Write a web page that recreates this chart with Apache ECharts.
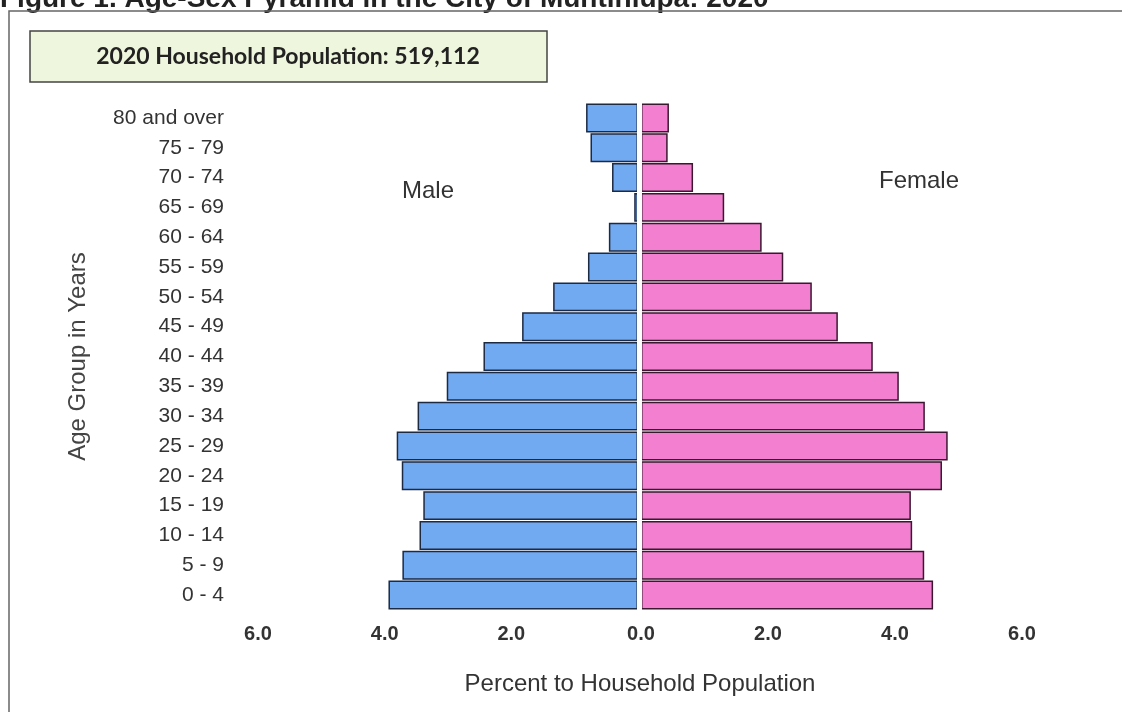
<!DOCTYPE html>
<html>
<head>
<meta charset="utf-8">
<title>Age-Sex Pyramid Muntinlupa 2020</title>
<script src="https://cdn.jsdelivr.net/npm/echarts@6/dist/echarts.min.js"></script>
<style>
  html, body { margin: 0; padding: 0; background: #fff; }
  #chart { width: 1122px; height: 712px; }
</style>
</head>
<body>
<div id="chart"></div>
<script>
// age groups, youngest first (category axis draws them bottom to top)
var ageGroups = ['0 - 4', '5 - 9', '10 - 14', '15 - 19', '20 - 24', '25 - 29', '30 - 34',
  '35 - 39', '40 - 44', '45 - 49', '50 - 54', '55 - 59', '60 - 64', '65 - 69',
  '70 - 74', '75 - 79', '80 and over'];
// percent to household population
var maleValues = [3.94, 3.72, 3.45, 3.39, 3.73, 3.81, 3.48, 3.02, 2.44, 1.83, 1.34, 0.79, 0.46, 0.06, 0.41, 0.75, 0.82];
var femaleValues = [4.60, 4.46, 4.27, 4.25, 4.74, 4.83, 4.47, 4.06, 3.65, 3.10, 2.69, 2.24, 1.90, 1.31, 0.82, 0.42, 0.44];
var tickMax = 6;
var tickStep = 2;
var totalText = '2020 Household Population: 519,112';

var font = "'Liberation Sans', Arial, sans-serif";
var chart = echarts.init(document.getElementById('chart'));

function xAxisFor(grid, inverse, showZero) {
  return {
    type: 'value', gridIndex: grid, min: 0, max: tickMax, interval: tickStep, inverse: inverse,
    axisLine: { show: false }, axisTick: { show: false }, splitLine: { show: false },
    axisLabel: {
      margin: 14, showMinLabel: showZero, color: '#333', fontFamily: font,
      fontWeight: 'bold', fontSize: 20,
      formatter: function (v) { return v.toFixed(1); }
    }
  };
}

var option = {
  backgroundColor: '#fff',
  animation: false,
  grid: [
    { left: 258, right: 484, top: 103, bottom: 102 },
    { left: 641, right: 100, top: 103, bottom: 102 }
  ],
  xAxis: [xAxisFor(0, true, false), xAxisFor(1, false, true)],
  yAxis: [{
    type: 'category', gridIndex: 0, data: ageGroups,
    axisLine: { show: false }, axisTick: { show: false },
    axisLabel: { margin: 34, color: '#333', fontFamily: font, fontSize: 21 },
    name: 'Age Group in Years', nameLocation: 'middle', nameRotate: 90, nameGap: 168,
    nameTextStyle: { color: '#444', fontFamily: font, fontSize: 24 }
  }, {
    type: 'category', gridIndex: 1, data: ageGroups, show: false
  }],
  series: [{
    name: 'Male', type: 'bar', xAxisIndex: 0, yAxisIndex: 0,
    data: maleValues, barCategoryGap: '3%',
    itemStyle: { color: '#72aaf2', borderColor: '#1c2a44', borderWidth: 1.5 },
    markLine: {
      silent: true, symbol: 'none', label: { show: false },
      lineStyle: { color: '#fff', width: 3, type: 'solid' },
      data: [{ xAxis: 0 }]
    }
  }, {
    name: 'Female', type: 'bar', xAxisIndex: 1, yAxisIndex: 1,
    data: femaleValues, barCategoryGap: '3%',
    itemStyle: { color: '#f27fcf', borderColor: '#3a1830', borderWidth: 1.5 },
    markLine: {
      silent: true, symbol: 'none', label: { show: false },
      lineStyle: { color: '#fff', width: 2, type: 'solid' },
      data: [{ xAxis: 0 }]
    }
  }],
  graphic: [
    // cut-off figure caption at the very top
    { type: 'text', left: 0, top: -15, style: {
      text: 'Figure 1. Age-Sex Pyramid in the City of Muntinlupa: 2020',
      font: 'bold 28px ' + font, fill: '#222' } },
    // outer frame
    { type: 'rect', shape: { x: 9, y: 11, width: 1125, height: 720 },
      style: { fill: 'none', stroke: '#666', lineWidth: 1.5 } },
    // total population box
    { type: 'rect', shape: { x: 30, y: 31, width: 517, height: 51 },
      style: { fill: '#eef6dd', stroke: '#444', lineWidth: 1.5 } },
    { type: 'text', x: 288, y: 57, style: {
      text: totalText, font: 'bold 23px Lato, sans-serif', fill: '#222',
      textAlign: 'center', textVerticalAlign: 'middle' } },
    { type: 'text', x: 428, y: 191, style: {
      text: 'Male', font: '24px ' + font, fill: '#333',
      textAlign: 'center', textVerticalAlign: 'middle' } },
    { type: 'text', x: 919, y: 181, style: {
      text: 'Female', font: '24px ' + font, fill: '#333',
      textAlign: 'center', textVerticalAlign: 'middle' } },
    { type: 'text', x: 640, y: 684, style: {
      text: 'Percent to Household Population', font: '24px ' + font, fill: '#333',
      textAlign: 'center', textVerticalAlign: 'middle' } }
  ]
};

chart.setOption(option);
window.addEventListener('resize', function () { chart.resize(); });
</script>
</body>
</html>
